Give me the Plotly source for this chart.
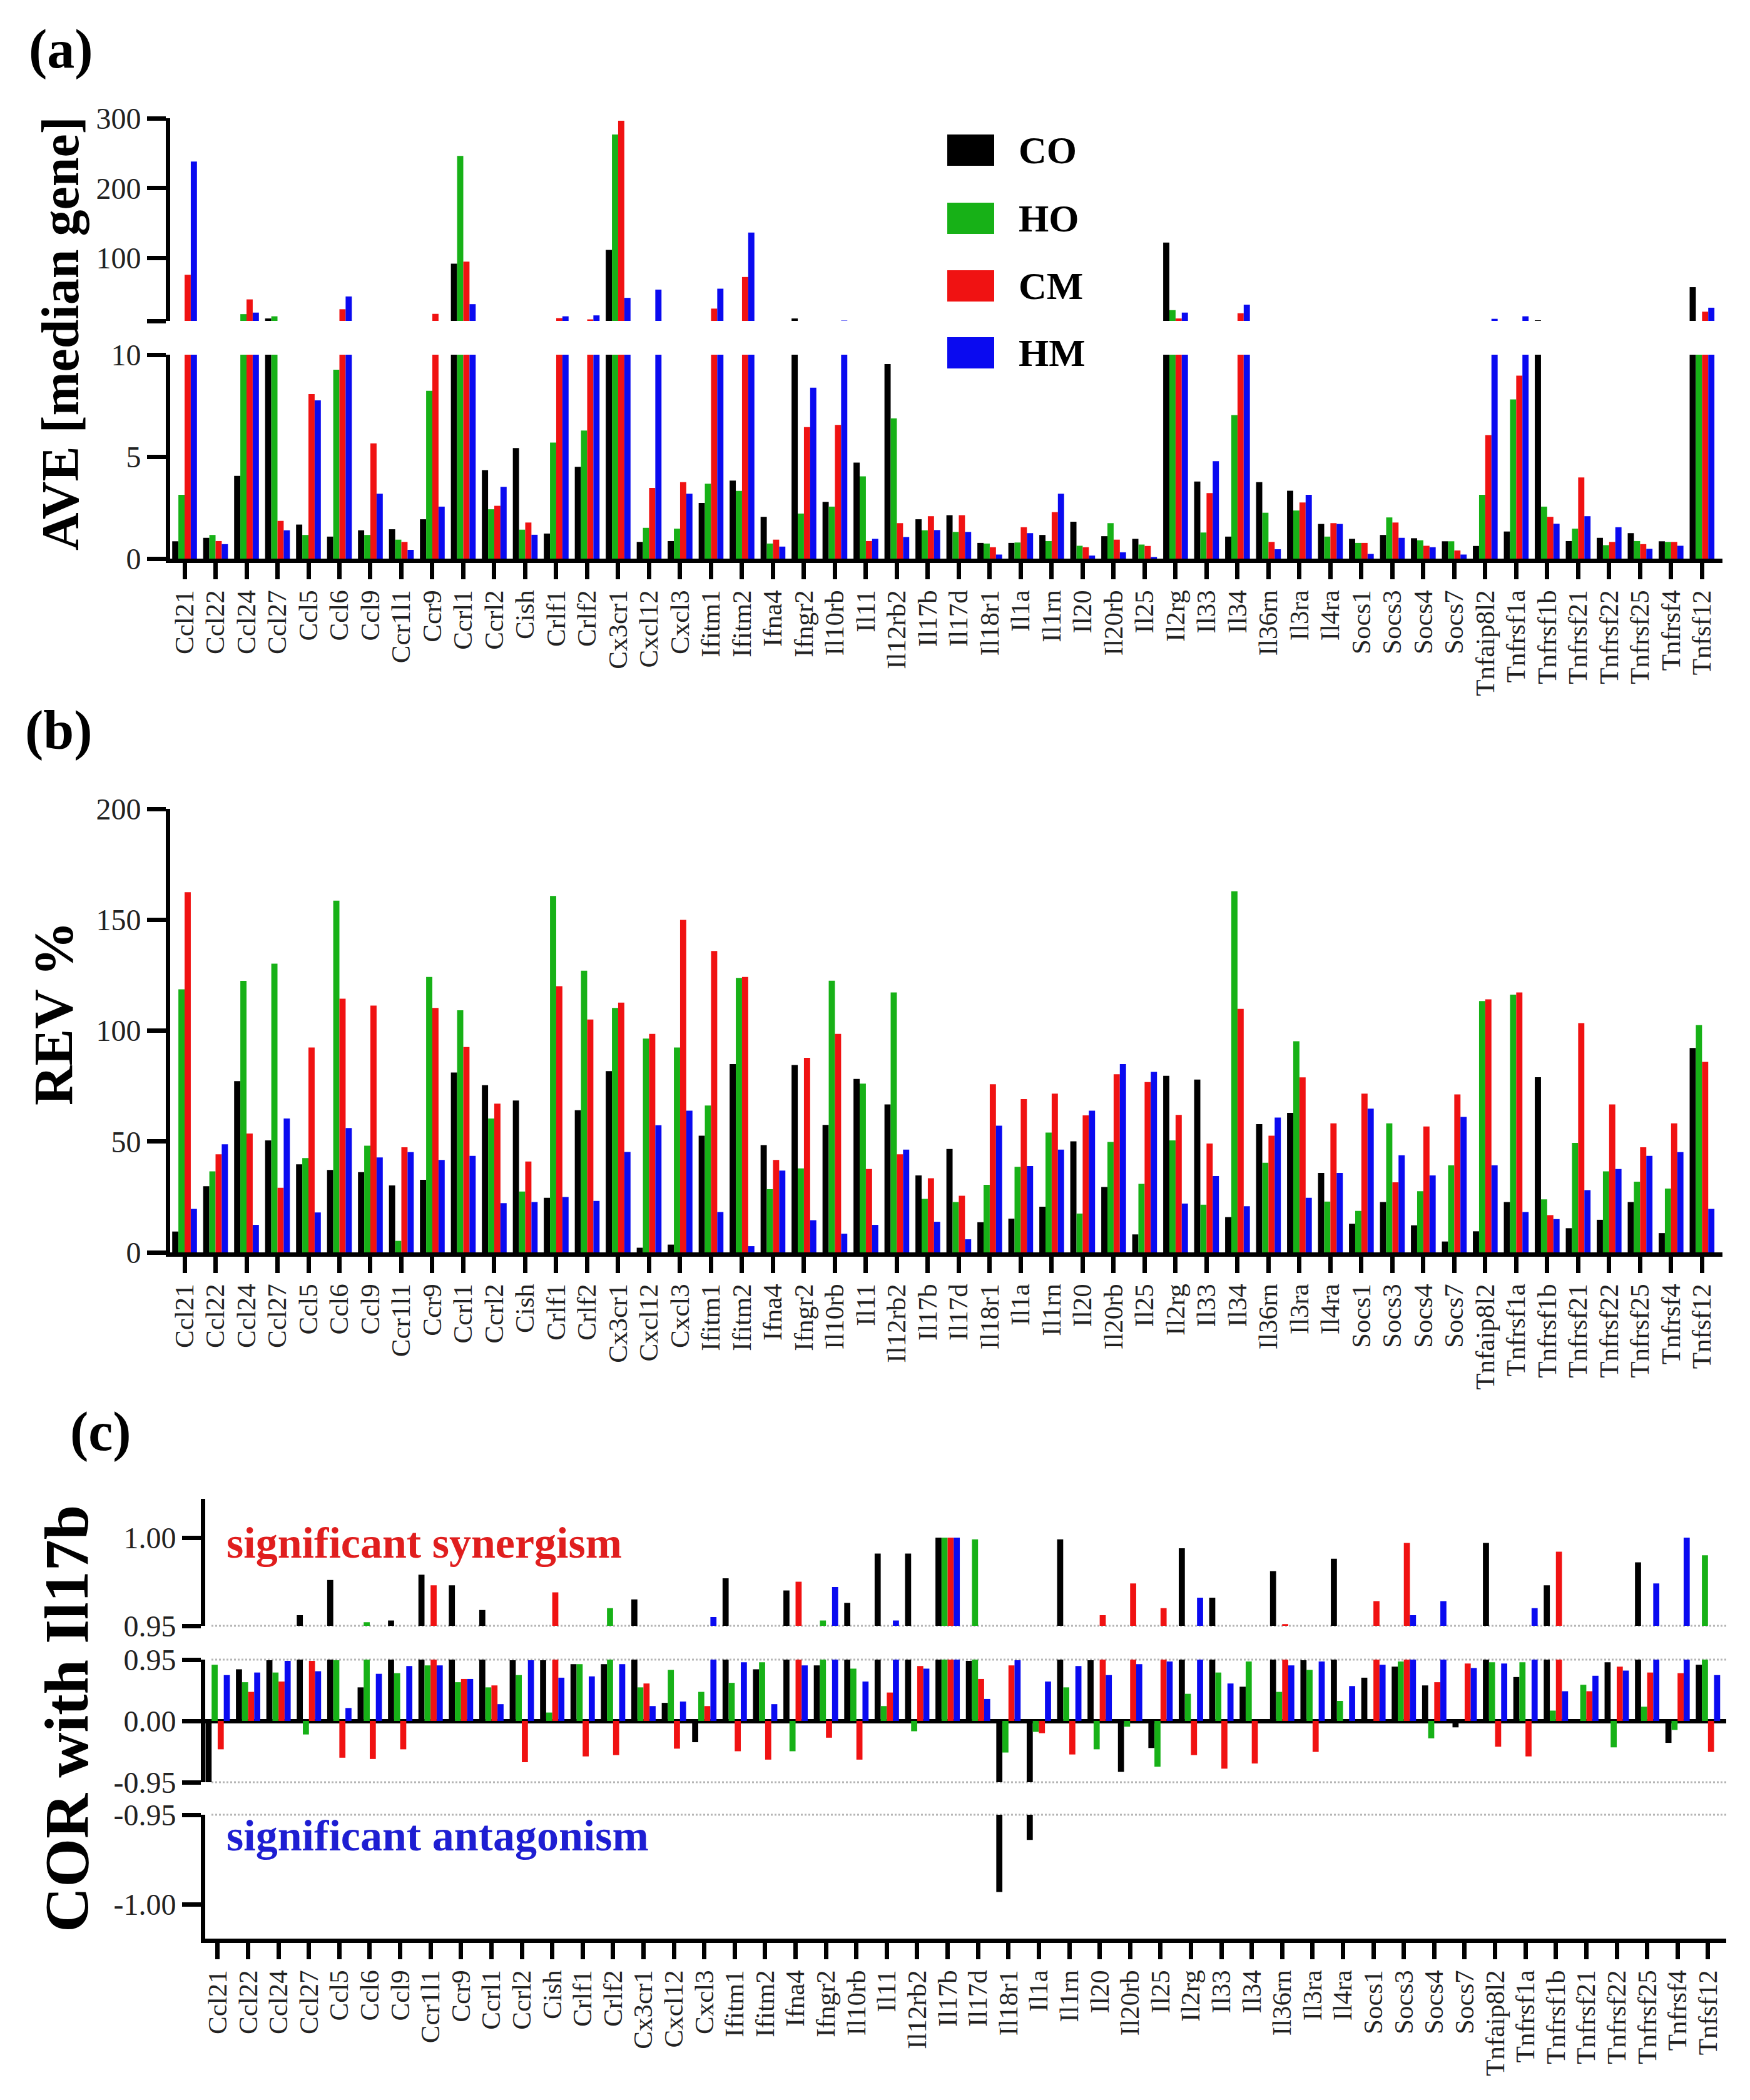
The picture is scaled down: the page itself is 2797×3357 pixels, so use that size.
import plotly.graph_objects as go

W, H = 2797, 3357

genes = ["Ccl21", "Ccl22", "Ccl24", "Ccl27", "Ccl5", "Ccl6", "Ccl9", "Ccr1l1", "Ccr9", "Ccrl1",
         "Ccrl2", "Cish", "Crlf1", "Crlf2", "Cx3cr1", "Cxcl12", "Cxcl3", "Ifitm1", "Ifitm2", "Ifna4",
         "Ifngr2", "Il10rb", "Il11", "Il12rb2", "Il17b", "Il17d", "Il18r1", "Il1a", "Il1rn", "Il20",
         "Il20rb", "Il25", "Il2rg", "Il33", "Il34", "Il36rn", "Il3ra", "Il4ra", "Socs1", "Socs3",
         "Socs4", "Socs7", "Tnfaip8l2", "Tnfrsf1a", "Tnfrsf1b", "Tnfrsf21", "Tnfrsf22", "Tnfrsf25", "Tnfrsf4", "Tnfsf12"]

groups = ["CO", "HO", "CM", "HM"]
colors = ["#000000", "#17B117", "#F01212", "#0A0AF0"]

# (a) AVE [median gene]
ave_co = [0.85, 1.02, 4.06, 13.5, 1.67, 1.08, 1.39, 1.44, 1.93, 92, 4.34, 5.42, 1.23, 4.5, 111.5, 0.82, 0.86,
          2.73, 3.83, 2.05, 13.5, 2.78, 4.71, 9.54, 1.93, 2.13, 0.77, 0.77, 1.16, 1.81, 1.1, 0.97, 122, 3.78,
          1.08, 3.75, 3.33, 1.7, 0.97, 1.16, 1.0, 0.85, 0.62, 1.33, 10.9, 0.86, 1.02, 1.25, 0.85, 58.3]
ave_ho = [3.13, 1.16, 19.7, 16.6, 1.16, 9.26, 1.16, 0.93, 8.23, 246, 2.42, 1.42, 5.69, 6.28, 276.7, 1.51, 1.47,
          3.67, 3.32, 0.74, 2.21, 2.55, 4.03, 6.88, 1.39, 1.31, 0.74, 0.79, 0.86, 0.63, 1.74, 0.69, 25.4, 1.28,
          7.04, 2.25, 2.36, 1.08, 0.77, 2.02, 0.9, 0.85, 3.13, 7.81, 2.55, 1.47, 0.66, 0.86, 0.82, 10]
ave_cm = [76, 0.86, 40.8, 1.85, 8.07, 26.7, 5.65, 0.82, 20.1, 94.8, 2.59, 1.77, 14, 12.2, 296.5, 3.47, 3.75,
          27.6, 72.8, 0.93, 6.45, 6.56, 0.86, 1.74, 2.08, 2.13, 0.56, 1.54, 2.28, 0.56, 0.93, 0.62, 13.5, 3.21,
          21, 0.82, 2.75, 1.74, 0.77, 1.77, 0.63, 0.4, 6.06, 8.97, 2.05, 3.98, 0.82, 0.71, 0.82, 23.2]
ave_hm = [238, 0.71, 21.9, 1.39, 7.76, 45, 3.18, 0.43, 2.55, 34, 3.52, 1.17, 16.6, 17.9, 43, 54.8, 3.18,
          56.1, 136.5, 0.59, 8.38, 10.5, 0.97, 1.06, 1.4, 1.31, 0.2, 1.25, 3.18, 0.15, 0.31, 0.08, 21.9, 4.78,
          33.3, 0.46, 3.13, 1.7, 0.23, 1.02, 0.56, 0.2, 13, 16.6, 1.71, 2.08, 1.54, 0.48, 0.63, 28.9]

# (b) REV %
rev_co = [9.4, 29.8, 77.2, 50.5, 39.7, 37.2, 36.2, 30.2, 32.7, 81.1, 75.4, 68.5, 24.6, 64.1, 81.7, 2.1, 3.5,
          52.6, 84.9, 48.4, 84.5, 57.5, 78.2, 66.7, 34.7, 46.6, 13.6, 15.2, 20.6, 50.1, 29.5, 8.1, 79.6, 77.9,
          15.9, 57.8, 62.9, 35.8, 12.9, 22.7, 12.2, 4.9, 9.5, 22.7, 79, 10.9, 14.7, 22.7, 8.7, 92.2]
rev_ho = [118.6, 36.5, 122.4, 130.2, 42.5, 158.6, 48.1, 5.2, 124.2, 109.2, 60.4, 27.4, 160.7, 127, 110.2, 96.4, 92.4,
          66.2, 123.8, 28.5, 37.9, 122.5, 76.1, 117.2, 24.1, 22.7, 30.5, 38.6, 54, 17.5, 49.8, 30.9, 50.5, 21.5,
          162.8, 40.4, 95.2, 22.9, 18.7, 58.2, 27.6, 39.3, 113.3, 116.2, 23.9, 49.4, 36.5, 31.9, 28.8, 102.5]
rev_cm = [162.4, 44.2, 53.6, 29.1, 92.4, 114.4, 111.3, 47.4, 110.2, 92.6, 67.1, 41, 120, 105, 112.6, 98.5, 149.9,
          135.9, 124.2, 41.7, 87.7, 98.5, 37.6, 44.2, 33.4, 25.5, 75.8, 69.1, 71.6, 61.8, 80.3, 76.8, 62, 49.1,
          109.8, 52.6, 78.9, 58.2, 71.6, 31.6, 56.8, 71.2, 114.1, 117.2, 16.8, 103.4, 66.7, 47.4, 58.2, 85.9]
rev_hm = [19.6, 48.7, 12.4, 60.4, 18, 56.1, 42.8, 45.2, 41.7, 43.5, 22.2, 22.7, 25, 23.2, 45.3, 57.3, 63.9,
          18.2, 2.8, 36.9, 14.5, 8.4, 12.4, 46.3, 13.8, 5.9, 57.1, 38.9, 46.3, 63.9, 84.9, 81.4, 22, 34.4,
          20.8, 60.8, 24.6, 35.8, 64.8, 43.8, 34.7, 61.1, 39.3, 18.2, 15, 28.1, 37.6, 43.5, 45.2, 19.6]

# (c) COR with Il17b
cor_co = [-0.95, 0.80, 0.94, 0.956, 0.976, 0.52, 0.953, 0.979, 0.973, 0.959, 0.94, 0.94, 0.88, 0.88, 0.965, 0.28, -0.33,
          0.977, 0.80, 0.970, 0.86, 0.963, 0.991, 0.991, 1.00, 0.93, -0.993, -0.964, 0.999, 0.94, -0.79, -0.42, 0.994,
          0.966, 0.53, 0.981, 0.94, 0.988, 0.67, 0.84, 0.55, -0.10, 0.997, 0.68, 0.973, 0.0, 0.91, 0.986, -0.34, 0.87]
cor_ho = [0.87, 0.60, 0.75, -0.21, 0.94, 0.952, 0.74, 0.86, 0.60, 0.52, 0.71, 0.13, 0.88, 0.96, 0.52, 0.79, 0.45,
          0.59, 0.91, -0.47, 0.953, 0.81, 0.23, -0.16, 1.00, 0.999, -0.49, -0.17, 0.52, -0.44, -0.09, -0.71, 0.42,
          0.75, 0.92, 0.45, 0.79, 0.31, 0.0, 0.92, -0.27, 0.0, 0.91, 0.91, 0.16, 0.56, -0.41, 0.22, -0.14, 0.990]
cor_cm = [-0.44, 0.45, 0.61, 0.93, -0.57, -0.59, -0.44, 0.973, 0.65, 0.55, -0.64, 0.969, -0.55, -0.53, 0.58, -0.43, 0.23,
          -0.47, -0.60, 0.975, -0.26, -0.60, 0.44, 0.85, 1.00, 0.65, 0.86, -0.19, -0.52, 0.956, 0.974, 0.960, -0.53,
          -0.74, -0.66, 0.951, -0.48, 0.0, 0.964, 0.997, 0.60, 0.89, -0.40, -0.55, 0.992, 0.46, 0.84, 0.75, 0.74, -0.48]
cor_hm = [0.71, 0.75, 0.93, 0.77, 0.20, 0.73, 0.85, 0.86, 0.65, 0.26, 0.94, 0.67, 0.69, 0.88, 0.23, 0.30, 0.955,
          0.91, 0.26, 0.86, 0.972, 0.61, 0.953, 0.81, 1.00, 0.34, 0.94, 0.61, 0.85, 0.71, 0.88, 0.92, 0.966,
          0.58, 0.0, 0.86, 0.92, 0.54, 0.87, 0.956, 0.964, 0.82, 0.89, 0.960, 0.46, 0.70, 0.78, 0.974, 1.00, 0.71]

ave = [ave_co, ave_ho, ave_cm, ave_hm]
rev = [rev_co, rev_ho, rev_cm, rev_hm]
cor = [cor_co, cor_ho, cor_cm, cor_hm]


def px(p):
    return p / W


def py(p):
    return 1 - p / H


fig = go.Figure()


def add_bars(series, xa, ya):
    for name, col, vals in zip(groups, colors, series):
        fig.add_trace(go.Bar(x=genes, y=vals, name=name, marker=dict(color=col, line=dict(width=0)),
                             xaxis=xa, yaxis=ya, showlegend=False))


add_bars(ave, "x", "y")
add_bars(ave, "x", "y2")
add_bars(rev, "x2", "y3")
add_bars(cor, "x3", "y4")
add_bars(cor, "x3", "y5")
add_bars(cor, "x3", "y6")

font_family = "Liberation Serif"
axis_common = dict(showline=True, linecolor="black", linewidth=7, ticks="outside", tickwidth=7,
                   tickcolor="black", showgrid=False, zeroline=False, automargin=False, fixedrange=True,
                   tickfont=dict(size=48, color="#222", family=font_family))
xcommon = dict(axis_common, ticklen=26, tickangle=-90, type="category", tickmode="array", tickvals=genes,
               tickfont=dict(size=43, color="#222", family=font_family))
ycommon = dict(axis_common, ticklen=30)

xa_dom = [px(264), px(2745)]
xa_rng = [-0.465, 49.66]
xc_dom = [px(320), px(2751)]
xc_rng = [-0.41, 49.6]

fig.update_layout(
    width=W, height=H,
    template="none",
    paper_bgcolor="white", plot_bgcolor="rgba(0,0,0,0)",
    margin=dict(l=0, r=0, t=0, b=0, pad=0),
    barmode="group", bargap=0.2, bargroupgap=0,
    font=dict(family=font_family, color="black"),
    xaxis=dict(xcommon, domain=xa_dom, range=xa_rng, anchor="y2"),
    yaxis=dict(ycommon, domain=[py(505), py(181)], range=[10, 300], anchor="x",
               tickvals=[10, 100, 200, 300], ticktext=["", "100", "200", "300"]),
    yaxis2=dict(ycommon, domain=[py(885), py(559)], range=[0, 10], anchor="x",
                tickvals=[0, 5, 10]),
    xaxis2=dict(xcommon, domain=xa_dom, range=xa_rng, anchor="y3"),
    yaxis3=dict(ycommon, domain=[py(1994), py(1285)], range=[0, 200], anchor="x2",
                tickvals=[0, 50, 100, 150, 200]),
    xaxis3=dict(xcommon, domain=xc_dom, range=xc_rng, anchor="y6"),
    yaxis4=dict(ycommon, domain=[py(2591), py(2388)], range=[0.95, 1.022], anchor="x3",
                tickvals=[0.95, 1.0], ticktext=["0.95", "1.00"]),
    yaxis5=dict(ycommon, domain=[py(2841), py(2645)], range=[-0.95, 0.95], anchor="x3",
                tickvals=[-0.95, 0, 0.95], ticktext=["-0.95", "0.00", "0.95"],
                zeroline=True, zerolinecolor="black", zerolinewidth=7),
    yaxis6=dict(ycommon, domain=[py(3091), py(2893)], range=[-1.019, -0.95], anchor="x3",
                tickvals=[-1.0, -0.95], ticktext=["-1.00", "-0.95"]),
)

shapes = []
# dotted reference lines in panel (c)
for yy in [2591, 2645, 2841, 2893]:
    shapes.append(dict(type="line", xref="paper", yref="paper", x0=px(330), x1=xc_dom[1],
                       y0=py(yy), y1=py(yy), line=dict(color="#b5b5b5", width=3, dash="dot"), layer="below"))
# legend boxes
leg_y = [232, 341, 449, 556]
for col, yc in zip(colors, leg_y):
    shapes.append(dict(type="rect", xref="paper", yref="paper", x0=px(1506), x1=px(1581),
                       y0=py(yc + 25), y1=py(yc - 25), fillcolor=col, line=dict(width=0)))

annotations = []
for name, yc in zip(groups, leg_y):
    annotations.append(dict(text=name, x=px(1618), y=py(yc), xref="paper", yref="paper",
                            xanchor="left", yanchor="middle", showarrow=False,
                            font=dict(size=62, family=font_family, color="black", weight="bold")))

for lab, xx, yy in [("(a)", 36, 70), ("(b)", 30, 1160), ("(c)", 102, 2280)]:
    annotations.append(dict(text=lab, x=px(xx), y=py(yy), xref="paper", yref="paper",
                            xanchor="left", yanchor="middle", showarrow=False,
                            font=dict(size=88, family=font_family, color="black", weight="bold")))

for lab, xx, yy, sz in [("AVE [median gene]", 88, 525, 84), ("REV %", 78, 1612, 88),
                        ("COR with Il17b", 98, 2740, 100)]:
    annotations.append(dict(text=lab, x=px(xx), y=py(yy), xref="paper", yref="paper",
                            xanchor="center", yanchor="middle", textangle=-90, showarrow=False,
                            font=dict(size=sz, family=font_family, color="black", weight="bold")))

annotations.append(dict(text="significant synergism", x=px(352), y=py(2458), xref="paper", yref="paper",
                        xanchor="left", yanchor="middle", showarrow=False,
                        font=dict(size=70, family=font_family, color="#E01E1E", weight="bold")))
annotations.append(dict(text="significant antagonism", x=px(352), y=py(2926), xref="paper", yref="paper",
                        xanchor="left", yanchor="middle", showarrow=False,
                        font=dict(size=70, family=font_family, color="#1E1ED2", weight="bold")))

fig.update_layout(shapes=shapes, annotations=annotations)

fig.write_html("out.html")
